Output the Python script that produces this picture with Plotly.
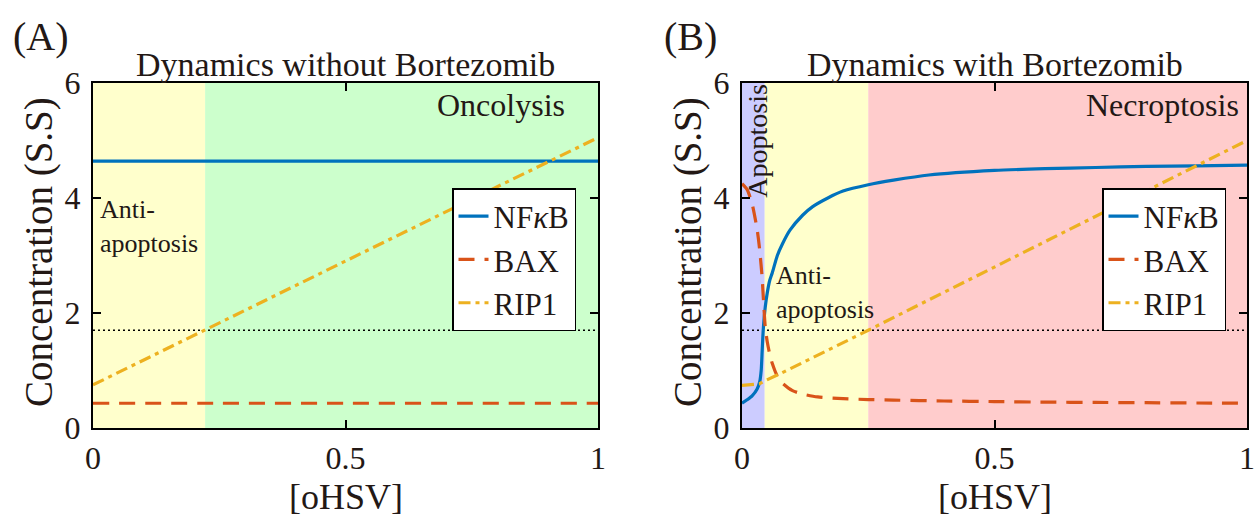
import plotly.graph_objects as go

# ---- data ----
x_a = [0.0, 0.25, 0.5, 0.75, 1.0]
nfkb_a = [4.64, 4.64, 4.64, 4.64, 4.64]
bax_a = [0.43, 0.43, 0.43, 0.43, 0.43]
rip1_a = [0.75, 1.83, 2.90, 3.98, 5.05]

x_nfkb_b = [0.0, 0.01, 0.02, 0.03, 0.035, 0.038, 0.04, 0.042, 0.046, 0.05, 0.055,
            0.06, 0.07, 0.08, 0.095, 0.12, 0.14, 0.17, 0.2, 0.25, 0.3, 0.37, 0.5,
            0.6, 0.7, 0.8, 0.9, 1.0]
nfkb_b = [0.43, 0.49, 0.56, 0.68, 0.80, 1.00, 1.35, 1.70, 2.10, 2.35, 2.57,
          2.70, 3.00, 3.20, 3.44, 3.70, 3.85, 4.00, 4.12, 4.23, 4.31, 4.40, 4.48,
          4.51, 4.53, 4.55, 4.56, 4.57]

x_bax_b = [0.0, 0.01, 0.02, 0.03, 0.035, 0.04, 0.043, 0.046, 0.05, 0.055, 0.06,
           0.07, 0.08, 0.1, 0.12, 0.15, 0.2, 0.25, 0.3, 0.4, 0.5, 0.6, 0.7, 0.8,
           0.9, 1.0]
bax_b = [4.25, 4.15, 3.90, 3.45, 3.10, 2.60, 2.15, 1.76, 1.50, 1.28, 1.12,
         0.90, 0.78, 0.65, 0.59, 0.54, 0.51, 0.495, 0.485, 0.47, 0.46, 0.45,
         0.445, 0.44, 0.435, 0.43]

x_rip1_b = [0.0, 0.02, 0.035, 0.045, 0.077, 0.25, 0.5, 0.75, 1.0]
rip1_b = [0.74, 0.75, 0.77, 0.82, 0.95, 1.70, 2.80, 3.90, 5.00]

threshold = 1.7
x_ticks = [0, 0.5, 1]
x_tick_text = ["0", "0.5", "1"]
y_ticks = [0, 2, 4, 6]
y_tick_text = ["0", "2", "4", "6"]

# region boundaries along [oHSV]
regions_a = [(0.0, 0.222, "#FFFFCC"), (0.222, 1.0, "#CCFFCC")]
regions_b = [(0.0, 0.045, "#CCCCFF"), (0.045, 0.25, "#FFFFCC"), (0.25, 1.0, "#FFCCCC")]

# ---- styling ----
FONT = "Liberation Serif"
TXT = "#231815"
C_NF = "#0072BD"
C_BAX = "#D95319"
C_RIP = "#EDB120"
W = 1254
H = 520

fig = go.Figure()


def add_panel(xs_nf, nf, xs_bax, bax, xs_rip, rip, xa, ya, legend):
    fig.add_trace(go.Scatter(x=[0, 1], y=[threshold, threshold], mode="lines",
                             line=dict(color="black", width=1.5, dash="2px,3px"),
                             xaxis=xa, yaxis=ya, showlegend=False, hoverinfo="skip"))
    fig.add_trace(go.Scatter(x=xs_nf, y=nf, mode="lines", name="NF<i>κ</i>B",
                             line=dict(color=C_NF, width=3.2, shape="spline", smoothing=0.6),
                             xaxis=xa, yaxis=ya, legend=legend))
    fig.add_trace(go.Scatter(x=xs_bax, y=bax, mode="lines", name="BAX",
                             line=dict(color=C_BAX, width=3.2, dash="16px,10px",
                                       shape="spline", smoothing=0.6),
                             xaxis=xa, yaxis=ya, legend=legend))
    fig.add_trace(go.Scatter(x=xs_rip, y=rip, mode="lines", name="RIP1",
                             line=dict(color=C_RIP, width=3.2, dash="12px,5px,4px,5px"),
                             xaxis=xa, yaxis=ya, legend=legend))


add_panel(x_a, nfkb_a, x_a, bax_a, x_a, rip1_a, "x", "y", "legend")
add_panel(x_nfkb_b, nfkb_b, x_bax_b, bax_b, x_rip1_b, rip1_b, "x2", "y2", "legend2")

shapes = []
for x0, x1, col in regions_a:
    shapes.append(dict(type="rect", xref="x", yref="y domain", x0=x0, x1=x1, y0=0, y1=1,
                       fillcolor=col, line=dict(width=0), layer="below"))
for x0, x1, col in regions_b:
    shapes.append(dict(type="rect", xref="x2", yref="y2 domain", x0=x0, x1=x1, y0=0, y1=1,
                       fillcolor=col, line=dict(width=0), layer="below"))

dom_a = [93 / W, 598 / W]
dom_b = [742 / W, 1247 / W]
dom_y = [1 - 428 / H, 1 - 83 / H]

axis_common = dict(showline=True, linewidth=2, linecolor="black", mirror="ticks",
                   ticks="inside", ticklen=8, tickwidth=1.5, tickcolor="black",
                   showgrid=False, zeroline=False, automargin=False,
                   tickfont=dict(family=FONT, size=32, color=TXT))

xaxis_kw = dict(axis_common, range=[0, 1], tickvals=x_ticks, ticktext=x_tick_text,
                ticklabelstandoff=1, ticklabeloverflow="allow")
yaxis_kw = dict(axis_common, range=[0, 6], tickvals=y_ticks, ticktext=y_tick_text,
                ticklabelstandoff=4)

legend_kw = dict(font=dict(family=FONT, size=31, color=TXT), bgcolor="white",
                 bordercolor="black", borderwidth=1.5, xanchor="left", yanchor="top",
                 itemwidth=30, tracegroupgap=0, entrywidth=92, entrywidthmode="pixels")


def ann(text, x, y, size, xref="paper", yref="paper", xanchor="center",
        yanchor="middle", angle=0, align="center"):
    return dict(text=text, x=x, y=y, xref=xref, yref=yref, xanchor=xanchor,
                yanchor=yanchor, textangle=angle, showarrow=False, align=align,
                font=dict(family=FONT, size=size, color=TXT))


annotations = [
    ann("(A)", 41 / W, 1 - 37 / H, 40),
    ann("(B)", 690 / W, 1 - 37 / H, 40),
    ann("Dynamics without Bortezomib", 345.5 / W, 1 - 64 / H, 34),
    ann("Dynamics with Bortezomib", 994.5 / W, 1 - 64 / H, 34),
    ann("Concentration (S.S)", 39 / W, 1 - 252 / H, 39, angle=-90),
    ann("Concentration (S.S)", 688 / W, 1 - 252 / H, 39, angle=-90),
    ann("[oHSV]", 345.5 / W, 1 - 496.5 / H, 36),
    ann("[oHSV]", 994.5 / W, 1 - 496.5 / H, 36),
    ann("Oncolysis", 0.808, 5.62, 32, xref="x", yref="y"),
    ann("Necroptosis", 0.832, 5.62, 32, xref="x2", yref="y2"),
    ann("Anti-<br>apoptosis", 0.010, 3.50, 26, xref="x", yref="y",
        xanchor="left", align="left"),
    ann("Anti-<br>apoptosis", 0.063, 2.36, 26, xref="x2", yref="y2",
        xanchor="left", align="left"),
    ann("Apoptosis", 0.03, 5.0, 28, xref="x2", yref="y2", angle=-90),
]

fig.update_layout(
    width=W, height=H,
    margin=dict(l=0, r=0, t=0, b=0, pad=0, autoexpand=False),
    paper_bgcolor="white", plot_bgcolor="white",
    xaxis=dict(xaxis_kw, domain=dom_a, anchor="y"),
    yaxis=dict(yaxis_kw, domain=dom_y, anchor="x"),
    xaxis2=dict(xaxis_kw, domain=dom_b, anchor="y2"),
    yaxis2=dict(yaxis_kw, domain=dom_y, anchor="x2"),
    legend=dict(legend_kw, x=452 / W, y=1 - 188 / H),
    legend2=dict(legend_kw, x=1102 / W, y=1 - 188 / H),
    shapes=shapes,
    annotations=annotations,
    showlegend=True,
)

fig.write_html("out.html")
